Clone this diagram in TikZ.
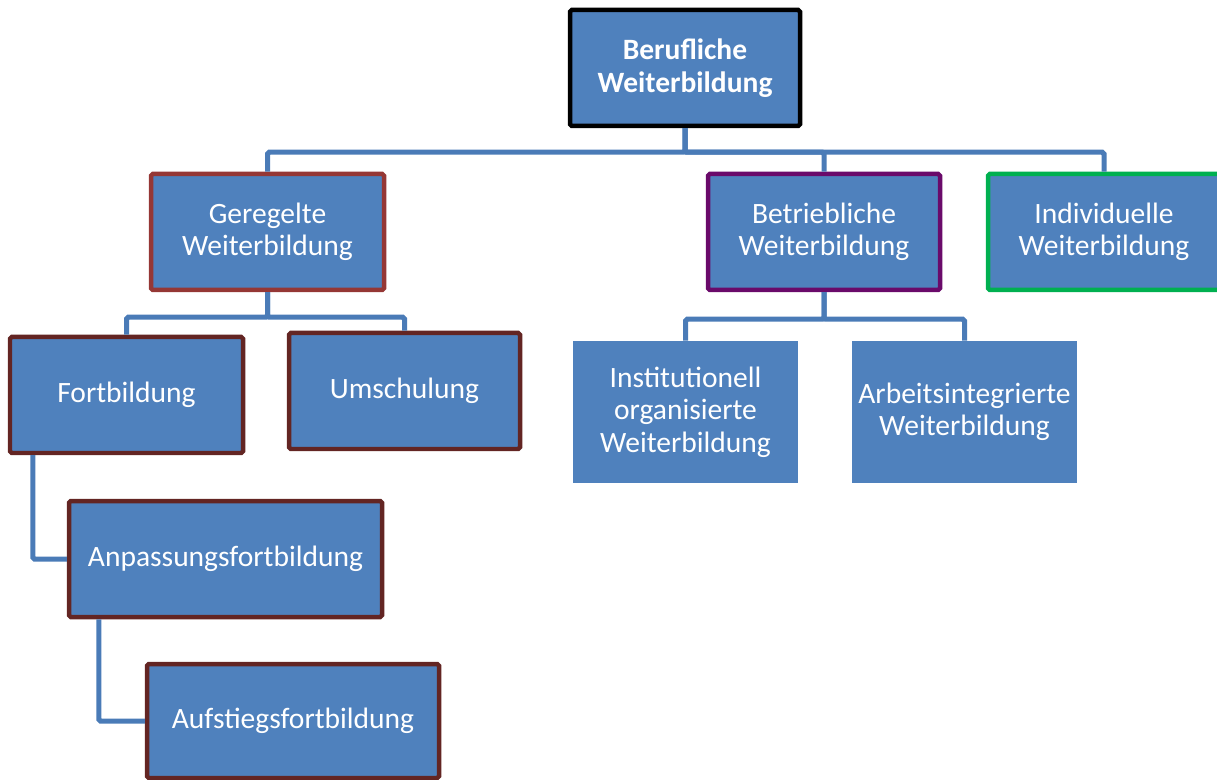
\documentclass[tikz,border=0pt]{standalone}
\usepackage{fontspec}
\setmainfont{Carlito}
\usetikzlibrary{positioning, calc}

\definecolor{boxblue}{HTML}{4F81BD}
\definecolor{lineblue}{HTML}{4A7BB7}
\definecolor{redbrown}{HTML}{953735}
\definecolor{darkbrown}{HTML}{632523}
\definecolor{darkpurple}{HTML}{6A0A6A}
\definecolor{brightgreen}{HTML}{00B050}

\begin{document}
\begin{tikzpicture}[x=0.02cm, y=-0.02cm,
  box/.style={fill=boxblue, text=white, align=center, inner sep=0pt,
    font=\fontsize{16.8pt}{18.4pt}\selectfont, rounded corners=1pt},
  framed/.style={box, draw=#1, line width=0.09cm},
  conn/.style={draw=lineblue, line width=0.1cm, rounded corners=1pt}]
  \newcommand\pxu{0.02cm}

  \useasboundingbox (0,0) rectangle (1217,780);

  \node[framed=black, minimum width=230*\pxu, minimum height=116*\pxu, font=\fontsize{16.8pt}{18.4pt}\selectfont\bfseries] at (685,68) (beruf) {Berufliche\\Weiterbildung};

  \node[framed=redbrown, minimum width=233*\pxu, minimum height=116*\pxu] at (267.5,232) (geregelt) {Geregelte\\Weiterbildung};
  \node[framed=darkpurple, minimum width=232*\pxu, minimum height=116*\pxu] at (824,232) (betrieb) {Betriebliche\\Weiterbildung};
  \node[framed=brightgreen, minimum width=232*\pxu, minimum height=116*\pxu] at (1104,232) (indiv) {Individuelle\\Weiterbildung};

  \node[framed=darkbrown, minimum width=233*\pxu, minimum height=116*\pxu] at (126.5,395) (fortb) {Fortbildung};
  \node[framed=darkbrown, minimum width=231*\pxu, minimum height=116*\pxu] at (404.5,391) (umsch) {Umschulung};
  \node[framed=darkbrown, minimum width=313*\pxu, minimum height=116*\pxu] at (225.5,559) (anpass) {Anpassungsfortbildung};
  \node[framed=darkbrown, minimum width=292*\pxu, minimum height=114*\pxu] at (293,721) (aufst) {Aufstiegsfortbildung};

  \node[box, rounded corners=0pt, minimum width=225*\pxu, minimum height=142*\pxu] at (685.5,412) (instit) {Institutionell\\organisierte\\Weiterbildung};
  \node[box, rounded corners=0pt, minimum width=225*\pxu, minimum height=142*\pxu] at (964.5,412) (arbint) {Arbeitsintegrierte\\Weiterbildung};

  % first level
  \draw[conn] (beruf.south) -- ++(0,24) -| (geregelt.north);
  \draw[conn] (beruf.south) -- ++(0,24) -| (betrieb.north);
  \draw[conn] (beruf.south) -- ++(0,24) -| (indiv.north);

  % geregelte weiterbildung
  \draw[conn] (geregelt.south) -- ++(0,25) -| (fortb.north);
  \draw[conn] (geregelt.south) -- ++(0,25) -| (umsch.north);
  \draw[conn] ($(fortb.south west)+(25,0)$) |- (anpass.west);
  \draw[conn] ($(anpass.south west)+(32,0)$) |- (aufst.west);

  % betriebliche weiterbildung
  \draw[conn] (betrieb.south) -- ++(0,27) -| (instit.north);
  \draw[conn] (betrieb.south) -- ++(0,27) -| (arbint.north);
\end{tikzpicture}
\end{document}
